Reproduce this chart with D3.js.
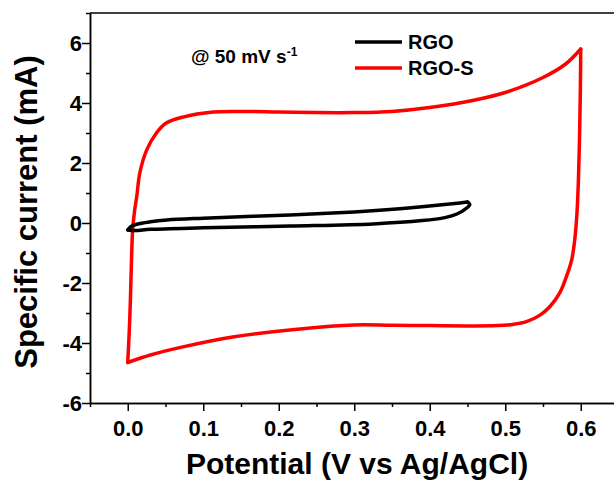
<!DOCTYPE html>
<html>
<head>
  <meta charset="utf-8">
  <title>CV curves RGO / RGO-S</title>
  <style>
    body { margin: 0; background: #fff; }
    svg { font-family: "Liberation Sans", Arial, sans-serif; font-weight: bold; }
    .axis path, .axis line { stroke: #000; stroke-width: 1.5px; }
    .axis text { font-size: 22px; font-weight: bold; fill: #000; }
    .cv { fill: none; stroke-width: 3.5px; stroke-linejoin: round; stroke-linecap: round; }
  </style>
</head>
<body>
  <svg id="chart"></svg>

  <script src="https://d3js.org/d3.v7.min.js"></script>
  <script>
    // Data: potential in V, current in mA
    var rgoSFwdV = [0.0, 0.002, 0.0035, 0.005, 0.0065, 0.009, 0.012, 0.016, 0.025, 0.038, 0.051, 0.073, 0.113, 0.15, 0.2, 0.25, 0.3, 0.35, 0.4, 0.46, 0.5, 0.55, 0.58, 0.6];
    var rgoSFwdI = [-4.65, -3.6, -2.57, -1.2, -0.23, 0.4, 0.9, 1.67, 2.43, 3.0, 3.33, 3.53, 3.7, 3.72, 3.7, 3.68, 3.68, 3.72, 3.85, 4.1, 4.35, 4.85, 5.3, 5.8];
    var rgoSRevV = [0.6, 0.5995, 0.5985, 0.597, 0.595, 0.592, 0.588, 0.581, 0.572, 0.559, 0.546, 0.528, 0.51, 0.49, 0.45, 0.4, 0.35, 0.3, 0.228, 0.139, 0.073, 0.03, 0.0];
    var rgoSRevI = [5.8, 4.5, 3.0, 1.5, 0.33, -0.57, -1.23, -1.79, -2.34, -2.79, -3.07, -3.29, -3.38, -3.42, -3.43, -3.42, -3.41, -3.4, -3.53, -3.8, -4.13, -4.4, -4.65];

    var rgoFwdV = [0.0, 0.004, 0.012, 0.03, 0.052, 0.1, 0.215, 0.3, 0.347, 0.413, 0.44, 0.45];
    var rgoFwdI = [-0.23, -0.12, -0.04, 0.04, 0.1, 0.16, 0.27, 0.37, 0.45, 0.6, 0.67, 0.7];
    var rgoRevV = [0.45, 0.453, 0.449, 0.436, 0.42, 0.39, 0.325, 0.215, 0.1, 0.03, 0.01, 0.0];
    var rgoRevI = [0.7, 0.62, 0.5, 0.3, 0.18, 0.08, -0.03, -0.1, -0.16, -0.21, -0.25, -0.23];

    var seriesNames = ["RGO", "RGO-S"];
    var seriesColors = ["#000000", "#ff0000"];

    var xMajor = [0, 0.1, 0.2, 0.3, 0.4, 0.5, 0.6];
    var xMinor = [-0.05, 0.05, 0.15, 0.25, 0.35, 0.45, 0.55];
    var yMajor = [-6, -4, -2, 0, 2, 4, 6];
    var yMinor = [-5, -3, -1, 1, 3, 5, 7];

    var width = 614, height = 485;
    var svg = d3.select("#chart").attr("width", width).attr("height", height);

    var x = d3.scaleLinear().domain([-0.05, 0.65]).range([90, 618.5]);
    var y = d3.scaleLinear().domain([-6, 7]).range([403, 13]);

    // frame top line (right edge falls outside the picture)
    svg.append("line")
      .attr("x1", x(-0.05)).attr("x2", x(0.65))
      .attr("y1", y(7)).attr("y2", y(7))
      .attr("stroke", "#000").attr("stroke-width", 1.5);

    // minor ticks
    svg.append("g").attr("class", "axis")
      .attr("transform", "translate(0," + y(-6) + ")")
      .call(d3.axisBottom(x).tickValues(xMinor).tickSize(4).tickSizeOuter(0).tickFormat(""));
    svg.append("g").attr("class", "axis")
      .attr("transform", "translate(" + x(-0.05) + ",0)")
      .call(d3.axisLeft(y).tickValues(yMinor).tickSize(4).tickSizeOuter(0).tickFormat(""));

    // major axes
    svg.append("g").attr("class", "axis")
      .attr("transform", "translate(0," + y(-6) + ")")
      .call(d3.axisBottom(x).tickValues(xMajor).tickSize(8).tickPadding(9).tickSizeOuter(0)
        .tickFormat(function(d) { return d.toFixed(1); }));
    svg.append("g").attr("class", "axis")
      .attr("transform", "translate(" + x(-0.05) + ",0)")
      .call(d3.axisLeft(y).tickValues(yMajor).tickSize(8).tickPadding(0).tickSizeOuter(0)
        .tickFormat(function(d) { return String(d); }));

    // axis titles
    svg.append("text")
      .attr("x", 357).attr("y", 474)
      .attr("text-anchor", "middle")
      .style("font-size", "30px")
      .text("Potential (V vs Ag/AgCl)");
    svg.append("text")
      .attr("transform", "translate(37,212) rotate(-90)")
      .attr("text-anchor", "middle")
      .style("font-size", "31px")
      .text("Specific current (mA)");

    // curves
    var line = d3.line()
      .x(function(d) { return x(d[0]); })
      .y(function(d) { return y(d[1]); })
      .curve(d3.curveCatmullRom.alpha(0.5));

    function pairs(vs, is) { return vs.map(function(v, i) { return [v, is[i]]; }); }

    var branches = [
      { s: 1, pts: pairs(rgoSFwdV, rgoSFwdI) },
      { s: 1, pts: pairs(rgoSRevV, rgoSRevI) },
      { s: 0, pts: pairs(rgoFwdV, rgoFwdI) },
      { s: 0, pts: pairs(rgoRevV, rgoRevI) }
    ];
    svg.selectAll("path.cv")
      .data(branches)
      .enter().append("path")
      .attr("class", "cv")
      .attr("stroke", function(d) { return seriesColors[d.s]; })
      .attr("d", function(d) { return line(d.pts); });

    // annotation
    var ann = svg.append("text").attr("x", 191).attr("y", 63).style("font-size", "19px");
    ann.append("tspan").text("@ 50 mV s");
    ann.append("tspan").attr("dy", -7).style("font-size", "12px").text("-1");

    // legend
    var leg = svg.append("g");
    seriesNames.forEach(function(name, i) {
      var ly = 42 + i * 26;
      leg.append("line")
        .attr("x1", 355).attr("x2", 402).attr("y1", ly).attr("y2", ly)
        .attr("stroke", seriesColors[i]).attr("stroke-width", 3.5);
      leg.append("text")
        .attr("x", 408).attr("y", ly + 7)
        .style("font-size", "20px")
        .text(name);
    });
  </script>
</body>
</html>
